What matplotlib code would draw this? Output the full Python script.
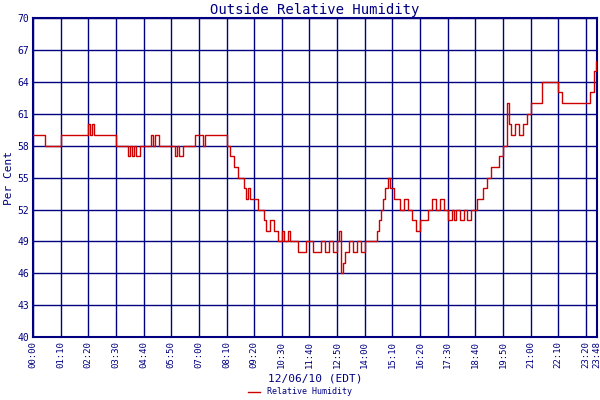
import matplotlib
matplotlib.use('Agg')
import matplotlib.pyplot as plt

navy = '#000080'

# readings: (time "HH:MM", humidity %)
times = ['00:00', '00:30', '01:10', '02:20', '02:25', '02:30', '02:35', '02:40', '03:30', '04:00', '04:05',
         '04:10', '04:15', '04:20', '04:30', '04:40', '05:00', '05:05', '05:10', '05:20', '05:30', '06:00',
         '06:05', '06:10', '06:20', '06:50', '07:10', '07:15', '07:20', '08:10', '08:20', '08:30', '08:40',
         '08:55', '09:00', '09:05', '09:10', '09:20', '09:30', '09:45', '09:50', '10:00', '10:10', '10:20',
         '10:30', '10:35', '10:45', '10:50', '11:00', '11:10', '11:30', '11:40', '11:50', '12:00', '12:10',
         '12:20', '12:30', '12:40', '12:50', '12:55', '13:00', '13:05', '13:10', '13:20', '13:30', '13:40',
         '13:50', '14:00', '14:20', '14:30', '14:35', '14:40', '14:45', '14:50', '15:00', '15:05', '15:15',
         '15:20', '15:30', '15:40', '15:50', '16:00', '16:10', '16:20', '16:40', '16:50', '17:00', '17:10',
         '17:20', '17:30', '17:40', '17:45', '17:50', '18:00', '18:10', '18:20', '18:30', '18:40', '18:45',
         '18:50', '19:00', '19:10', '19:20', '19:40', '19:50', '20:00', '20:05', '20:10', '20:20', '20:30',
         '20:40', '20:50', '21:00', '21:30', '22:10', '22:20', '23:20', '23:30', '23:40', '23:45', '23:48']
humidity = [59, 58, 59, 60, 59, 60, 59, 59, 58, 57, 58,
            57, 58, 57, 58, 58, 59, 58, 59, 58, 58, 57,
            58, 57, 58, 59, 58, 59, 59, 58, 57, 56, 55,
            54, 53, 54, 53, 53, 52, 51, 50, 51, 50, 49,
            50, 49, 50, 49, 49, 48, 49, 49, 48, 48, 49,
            48, 49, 48, 49, 50, 46, 47, 48, 49, 48, 49,
            48, 49, 49, 50, 51, 52, 53, 54, 55, 54, 53,
            53, 52, 53, 52, 51, 50, 51, 52, 53, 52, 53,
            52, 51, 52, 51, 52, 51, 52, 51, 52, 52, 53,
            53, 54, 55, 56, 57, 58, 62, 60, 59, 60, 59,
            60, 61, 62, 64, 63, 62, 62, 63, 65, 66, 66]
tick_labels = ['00:00', '01:10', '02:20', '03:30', '04:40', '05:50', '07:00', '08:10', '09:20', '10:30',
               '11:40', '12:50', '14:00', '15:10', '16:20', '17:30', '18:40', '19:50', '21:00', '22:10',
               '23:20', '23:48']
y_ticks = list(range(40, 71, 3))


def to_min(s):
    h, m = s.split(':')
    return int(h) * 60 + int(m)


x = [to_min(t) for t in times]
xt = [to_min(t) for t in tick_labels]

plt.rcParams['font.family'] = 'DejaVu Sans Mono'
fig = plt.figure(figsize=(6, 4), dpi=100)
ax = fig.add_axes([0.055, 0.157, 0.94, 0.798])

ax.plot(x, humidity, color='#cc0000', linewidth=1.0, drawstyle='steps-post', label='Relative Humidity', zorder=3)

ax.set_xlim(0, xt[-1])
ax.set_ylim(40, 70)
ax.set_xticks(xt)
ax.set_xticklabels(tick_labels, rotation=90, fontsize=6.5, color=navy)
ax.set_yticks(y_ticks)
ax.set_yticklabels([str(v) for v in y_ticks], fontsize=7, color=navy)
ax.tick_params(length=0, pad=3)
ax.grid(True, color=navy, linewidth=1)
for s in ax.spines.values():
    s.set_color(navy)
    s.set_linewidth(1.5)

ax.set_title('Outside Relative Humidity', color=navy, fontsize=10, pad=3)
ax.set_ylabel('Per Cent', color=navy, fontsize=8, labelpad=2)
ax.set_xlabel('12/06/10 (EDT)', color=navy, fontsize=8, labelpad=4)
fig.legend(loc='lower center', bbox_to_anchor=(0.5, -0.01), frameon=False, fontsize=6,
           labelcolor=navy, handlelength=1.5)

fig.savefig('out.png')
